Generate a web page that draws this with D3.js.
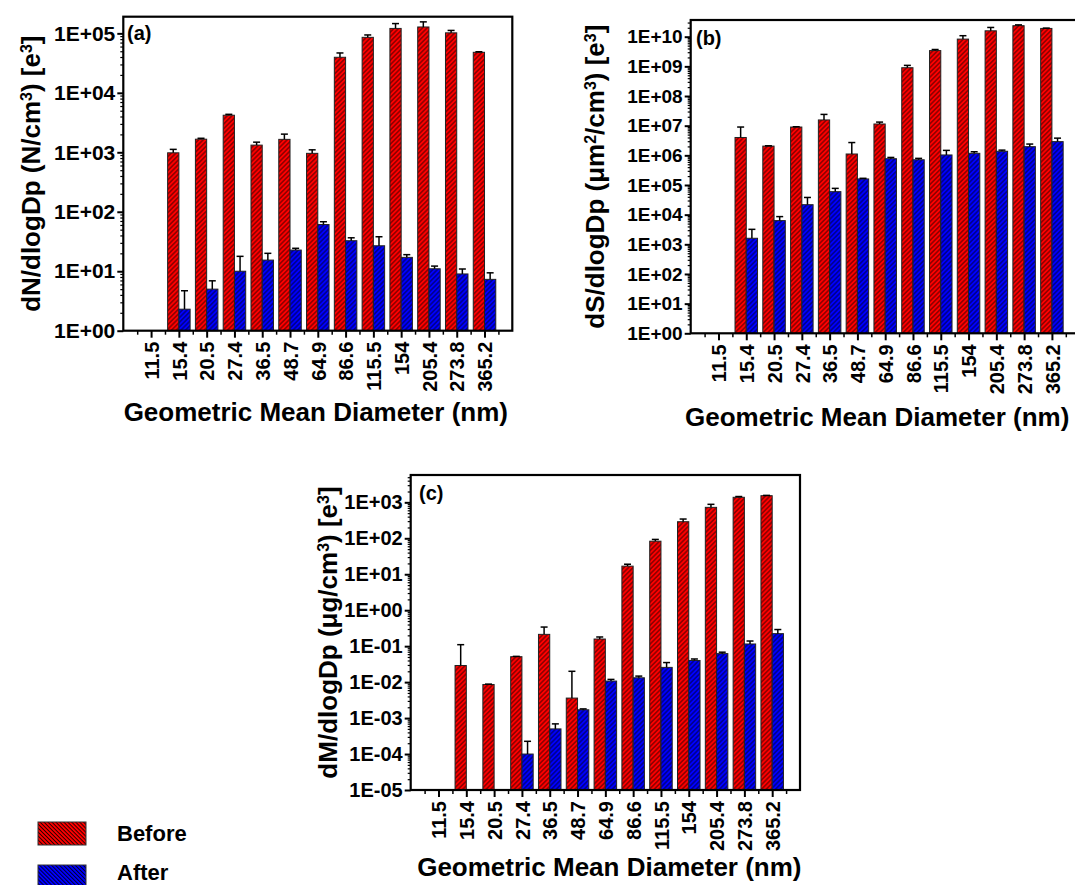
<!DOCTYPE html>
<html>
<meta charset="utf-8">
<script src="https://d3js.org/d3.v7.min.js"></script>
<style>
    body { margin: 0; background: #fff; }
    svg text { font-family: "Liberation Sans", Arial, sans-serif; font-weight: bold; fill: #000; }
</style>
<body>
<div id="chart"></div>
<script>
// geometric mean diameters (nm)
var diameters = ["11.5", "15.4", "20.5", "27.4", "36.5", "48.7", "64.9", "86.6", "115.5", "154", "205.4", "273.8", "365.2"];
var seriesNames = ["Before", "After"];

// (a) number distribution, value and top of error bar
var numBefore    = [null, 980, 1660, 4200, 1320, 1650, 960, 39600, 85700, 121000, 128000, 102000, 48000];
var numBeforeTop = [null, 1120, 1720, 4350, 1480, 2020, 1100, 46800, 94000, 146000, 156000, 112000, 49000];
var numAfter     = [null, 2.3, 5.0, 10, 15.4, 22.7, 61, 32.6, 26.8, 17.1, 11, 9.0, 7.3];
var numAfterTop  = [null, 4.7, 6.9, 17.8, 20, 24.3, 68, 36.5, 38, 19, 12.2, 10.9, 9.4];

// (b) surface distribution
var surfBefore    = [null, 4.0e6, 2.05e6, 9.0e6, 1.56e7, 1.11e6, 1.14e7, 9.0e8, 3.4e9, 8.3e9, 1.58e10, 2.35e10, 1.9e10];
var surfBeforeTop = [null, 9.0e6, 2.1e6, 9.2e6, 2.4e7, 2.7e6, 1.32e7, 1.08e9, 3.7e9, 1.08e10, 2.05e10, 2.5e10, 1.95e10];
var surfAfter     = [null, 1600, 6300, 21700, 59600, 1.6e5, 7.7e5, 7.1e5, 1.03e6, 1.17e6, 1.37e6, 1.96e6, 2.9e6];
var surfAfterTop  = [null, 3200, 8600, 38000, 77000, 1.68e5, 8.5e5, 7.9e5, 1.47e6, 1.32e6, 1.5e6, 2.4e6, 3.8e6];

// (c) mass distribution
var massBefore    = [null, 0.029, 0.0086, 0.051, 0.213, 0.0036, 0.158, 16.8, 83, 289, 725, 1380, 1530];
var massBeforeTop = [null, 0.11, 0.0088, 0.052, 0.34, 0.02, 0.18, 19, 93, 343, 880, 1450, 1560];
var massAfter     = [null, null, null, 1.0e-4, 5.0e-4, 1.7e-3, 0.0107, 0.0132, 0.0257, 0.040, 0.062, 0.115, 0.223];
var massAfterTop  = [null, null, null, 2.26e-4, 6.9e-4, 1.8e-3, 0.0119, 0.0147, 0.035, 0.044, 0.068, 0.139, 0.29];

var colors = { Before: "#ff0000", After: "#0000ff" };

var svg = d3.select("#chart").append("svg")
    .attr("width", 1075)
    .attr("height", 885);

// hatch patterns
var defs = svg.append("defs");
function hatch(id, color, angle, gap, sw) {
    var p = defs.append("pattern")
        .attr("id", id)
        .attr("patternUnits", "userSpaceOnUse")
        .attr("width", gap).attr("height", gap)
        .attr("patternTransform", "rotate(" + angle + ")");
    p.append("rect").attr("width", gap).attr("height", gap).attr("fill", color);
    p.append("line")
        .attr("x1", gap / 2).attr("y1", 0).attr("x2", gap / 2).attr("y2", gap)
        .attr("stroke", "#000").attr("stroke-width", sw);
}
hatch("hBefore", colors.Before, 45, 3.3, 0.7);
hatch("hAfter", colors.After, 45, 3.3, 0.7);
hatch("lBefore", colors.Before, -45, 2.8, 0.8);
hatch("lAfter", colors.After, -45, 2.8, 0.8);

function expFormat(d) {
    var e = Math.round(Math.log10(d));
    var s = Math.abs(e) < 10 ? "0" + Math.abs(e) : "" + Math.abs(e);
    return "1E" + (e < 0 ? "-" : "+") + s;
}

function drawPanel(cfg) {
    var w = cfg.right - cfg.left,
        h = cfg.bottom - cfg.top;
    var g = svg.append("g").attr("transform", "translate(" + cfg.left + "," + cfg.top + ")");

    var x = d3.scalePoint().domain(diameters).range([0, w]).padding(1);
    var xLin = d3.scaleLinear().domain([0, diameters.length + 1]).range([0, w]);
    var bw = x.step() * 0.405;
    var sub = d3.scaleBand().domain(seriesNames).range([-bw, bw]);
    var y = d3.scaleLog().domain([Math.pow(10, cfg.minExp), Math.pow(10, cfg.topExp)]).range([h, 0]);

    // bars
    seriesNames.forEach(function (s) {
        var vals = cfg.values[s], tops = cfg.tops[s];
        var data = diameters.map(function (d, i) { return { cat: d, v: vals[i], top: tops[i] }; })
            .filter(function (d) { return d.v != null; });

        g.selectAll(null).data(data).enter().append("rect")
            .attr("x", function (d) { return x(d.cat) + sub(s); })
            .attr("y", function (d) { return y(d.v); })
            .attr("width", sub.bandwidth())
            .attr("height", function (d) { return h - y(d.v); })
            .attr("fill", "url(#h" + s + ")")
            .attr("stroke", "#222")
            .attr("stroke-width", 1);

        // upper error bars
        var eb = g.selectAll(null).data(data).enter().append("g")
            .attr("stroke", "#000").attr("stroke-width", 1.5);
        eb.append("line")
            .attr("x1", function (d) { return x(d.cat) + sub(s) + sub.bandwidth() / 2; })
            .attr("x2", function (d) { return x(d.cat) + sub(s) + sub.bandwidth() / 2; })
            .attr("y1", function (d) { return y(d.v); })
            .attr("y2", function (d) { return y(d.top); });
        eb.append("line")
            .attr("x1", function (d) { return x(d.cat) + sub(s) + sub.bandwidth() / 2 - 3.5; })
            .attr("x2", function (d) { return x(d.cat) + sub(s) + sub.bandwidth() / 2 + 3.5; })
            .attr("y1", function (d) { return y(d.top); })
            .attr("y2", function (d) { return y(d.top); });
    });

    // y axis: decades and minor ticks
    var decades = d3.range(cfg.minExp, Math.floor(cfg.topExp) + 1).map(function (e) { return Math.pow(10, e); });
    var minors = [];
    decades.forEach(function (d) {
        for (var k = 2; k <= 9; k++) if (Math.log10(d * k) <= cfg.topExp) minors.push(d * k);
    });
    g.append("g").call(d3.axisLeft(y).tickValues(minors).tickSize(3).tickFormat(""))
        .call(function (a) { a.select(".domain").remove(); a.selectAll("line").attr("stroke-width", 1.2); });
    g.append("g").call(d3.axisLeft(y).tickValues(decades).tickSize(6).tickPadding(2).tickFormat(expFormat))
        .call(function (a) {
            a.select(".domain").remove();
            a.selectAll("line").attr("stroke-width", 2);
            a.selectAll("text").style("font-size", cfg.yFont + "px").attr("font-family", null);
        });

    // x axis: categories and half-step minor ticks
    g.append("g").attr("transform", "translate(0," + h + ")")
        .call(d3.axisBottom(xLin).tickValues(d3.range(0.5, diameters.length + 1, 1)).tickSize(4).tickFormat(""))
        .call(function (a) { a.select(".domain").remove(); a.selectAll("line").attr("stroke-width", 1.5); });
    g.append("g").attr("transform", "translate(0," + h + ")")
        .call(d3.axisBottom(x).tickSize(7))
        .call(function (a) {
            a.select(".domain").remove();
            a.selectAll("line").attr("stroke-width", 2);
            a.selectAll("text")
                .attr("transform", "rotate(-90)")
                .attr("text-anchor", "end")
                .attr("x", -11).attr("y", 0).attr("dy", "0.36em")
                .style("font-size", "20px").attr("font-family", null);
        });

    // frame
    g.append("rect").attr("width", w).attr("height", h)
        .attr("fill", "none").attr("stroke", "#000").attr("stroke-width", 2.2);

    // panel letter
    g.append("text").attr("x", cfg.tagX - cfg.left).attr("y", cfg.tagY - cfg.top)
        .style("font-size", "20px").text(cfg.tag);

    // axis titles
    svg.append("text")
        .attr("x", cfg.left + w / 2 + cfg.xTitleShift).attr("y", cfg.xTitleY)
        .attr("text-anchor", "middle").style("font-size", "26px")
        .text("Geometric Mean Diameter (nm)");

    var yt = svg.append("text")
        .attr("transform", "translate(" + cfg.yTitleX + "," + (cfg.top + h / 2) + ") rotate(-90)")
        .attr("text-anchor", "middle").style("font-size", "26px");
    cfg.yTitle.forEach(function (p) {
        var t = yt.append("tspan").text(p[0]);
        if (p[1]) t.attr("baseline-shift", "super").style("font-size", "16px");
    });
}

drawPanel({
    left: 123.3, right: 512.3, top: 16.7, bottom: 330.7,
    minExp: 0, topExp: 5.28, yFont: 21,
    values: { Before: numBefore, After: numAfter },
    tops: { Before: numBeforeTop, After: numAfterTop },
    tag: "(a)", tagX: 127, tagY: 40,
    xTitleY: 421, xTitleShift: -2, yTitleX: 40,
    yTitle: [["dN/dlogDp (N/cm"], ["3", true], [") [e"], ["3", true], ["]"]]
});

drawPanel({
    left: 690.7, right: 1079.7, top: 20, bottom: 333.3,
    minExp: 0, topExp: 10.563, yFont: 19,
    values: { Before: surfBefore, After: surfAfter },
    tops: { Before: surfBeforeTop, After: surfAfterTop },
    tag: "(b)", tagX: 696, tagY: 45,
    xTitleY: 426, xTitleShift: -8, yTitleX: 604,
    yTitle: [["dS/dlogDp (μm"], ["2", true], ["/cm"], ["3", true], [") [e"], ["3", true], ["]"]]
});

drawPanel({
    left: 410.7, right: 800, top: 475, bottom: 790,
    minExp: -5, topExp: 3.76, yFont: 20,
    values: { Before: massBefore, After: massAfter },
    tops: { Before: massBeforeTop, After: massAfterTop },
    tag: "(c)", tagX: 419, tagY: 500,
    xTitleY: 876, xTitleShift: 4, yTitleX: 337,
    yTitle: [["dM/dlogDp (μg/cm"], ["3", true], [") [e"], ["3", true], ["]"]]
});

// legend
var legend = svg.append("g");
seriesNames.forEach(function (s, i) {
    legend.append("rect")
        .attr("x", 38).attr("y", 822 + i * 43)
        .attr("width", 48).attr("height", 23)
        .attr("fill", "url(#l" + s + ")")
        .attr("stroke", "#333").attr("stroke-width", 1);
    legend.append("text")
        .attr("x", 117).attr("y", 841 + i * 39)
        .style("font-size", "22px")
        .text(s);
});
</script>
</body>
</html>
